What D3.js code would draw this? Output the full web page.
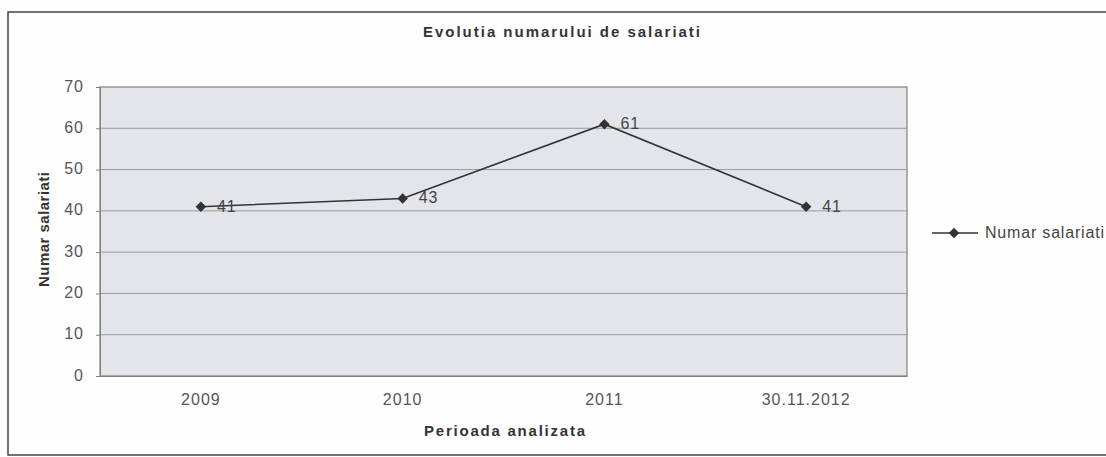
<!DOCTYPE html>
<html>
<head>
<meta charset="utf-8">
<script src="https://cdn.jsdelivr.net/npm/d3@7"></script>
<style>
  html, body { margin: 0; padding: 0; background: #fff; }
  svg { display: block; font-family: "Liberation Sans", Arial, sans-serif; }
</style>
</head>
<body>
<svg id="chart" width="1106" height="457"></svg>
<script>
const categories = ["2009", "2010", "2011", "30.11.2012"];
const values = [41, 43, 61, 41];
const yTicks = [0, 10, 20, 30, 40, 50, 60, 70];
const chartTitle = "Evolutia numarului de salariati";
const xTitle = "Perioada analizata";
const yTitle = "Numar salariati";
const seriesName = "Numar salariati";

const svg = d3.select("#chart");
const W = 1106, H = 457;
const plot = { left: 100, right: 907, top: 87, bottom: 376 };
const FONT = "Liberation Sans, Arial, sans-serif";

// outer frame
svg.append("rect").attr("x", 0).attr("y", 0).attr("width", W).attr("height", H).attr("fill", "#fefefe");
svg.append("path")
  .attr("d", `M1106,12 L8,12 L8,455 L1106,455`)
  .attr("fill", "none").attr("stroke", "#444").attr("stroke-width", 1.5);

const x = d3.scaleBand().domain(categories).range([plot.left, plot.right]);
const y = d3.scaleLinear().domain([0, 70]).range([plot.bottom, plot.top]);

// plot background
svg.append("rect")
  .attr("x", plot.left).attr("y", plot.top)
  .attr("width", plot.right - plot.left).attr("height", plot.bottom - plot.top)
  .attr("fill", "#e3e5eb").attr("stroke", "#808080").attr("stroke-width", 1.2);

// gridlines
svg.append("g").selectAll("line").data(yTicks.filter(t => t > 0 && t < 70)).join("line")
  .attr("x1", plot.left).attr("x2", plot.right)
  .attr("y1", d => y(d)).attr("y2", d => y(d))
  .attr("stroke", "#9a9a9a").attr("stroke-width", 1);

// y axis
const yAxis = svg.append("g").attr("transform", `translate(${plot.left},0)`)
  .call(d3.axisLeft(y).tickValues(yTicks).tickSize(4).tickPadding(12));
yAxis.select(".domain").attr("stroke", "#808080");
yAxis.selectAll(".tick line").attr("stroke", "#808080");
yAxis.selectAll("text").attr("font-size", 16).attr("fill", "#555")
  .attr("letter-spacing", 1).attr("font-family", FONT).attr("dy", "0.25em");

// x axis
const xAxis = svg.append("g").attr("transform", `translate(0,${plot.bottom})`)
  .call(d3.axisBottom(x).tickSize(0).tickPadding(18));
xAxis.select(".domain").attr("stroke", "#808080");
xAxis.selectAll("text").attr("font-size", 16).attr("fill", "#555")
  .attr("letter-spacing", 1).attr("font-family", FONT);

// titles
svg.append("text").attr("x", 423).attr("y", 37)
  .attr("textLength", 277).attr("lengthAdjust", "spacing")
  .attr("font-size", 15).attr("font-weight", "bold").attr("fill", "#333").text(chartTitle);
svg.append("text").attr("x", 424).attr("y", 436)
  .attr("textLength", 161).attr("lengthAdjust", "spacing")
  .attr("font-size", 15).attr("font-weight", "bold").attr("fill", "#333").text(xTitle);
svg.append("text").attr("transform", `translate(49,287) rotate(-90)`)
  .attr("textLength", 115).attr("lengthAdjust", "spacing")
  .attr("font-size", 15).attr("font-weight", "bold").attr("fill", "#333")
  .text(yTitle);

// line
const cx = (d, i) => x(categories[i]) + x.bandwidth() / 2;
svg.append("path").datum(values)
  .attr("d", d3.line().x((d, i) => cx(d, i)).y(d => y(d)))
  .attr("fill", "none").attr("stroke", "#333").attr("stroke-width", 1.6);

const diamond = d3.symbol().type(d3.symbolDiamond2).size(70);
svg.append("g").selectAll("path").data(values).join("path")
  .attr("d", diamond)
  .attr("transform", (d, i) => `translate(${cx(d, i)},${y(d)})`)
  .attr("fill", "#333");

// data labels
svg.append("g").selectAll("text").data(values).join("text")
  .attr("x", (d, i) => cx(d, i) + 16).attr("y", d => y(d) + 5)
  .attr("font-size", 16).attr("letter-spacing", 1).attr("fill", "#444").text(d => d);

// legend
const ly = 233;
svg.append("line").attr("x1", 932).attr("x2", 978).attr("y1", ly).attr("y2", ly)
  .attr("stroke", "#333").attr("stroke-width", 1.6);
svg.append("path").attr("d", diamond).attr("transform", `translate(954,${ly})`).attr("fill", "#333");
svg.append("text").attr("x", 985).attr("y", ly + 5)
  .attr("textLength", 119).attr("lengthAdjust", "spacing")
  .attr("font-size", 16).attr("fill", "#444").text(seriesName);
</script>
</body>
</html>
